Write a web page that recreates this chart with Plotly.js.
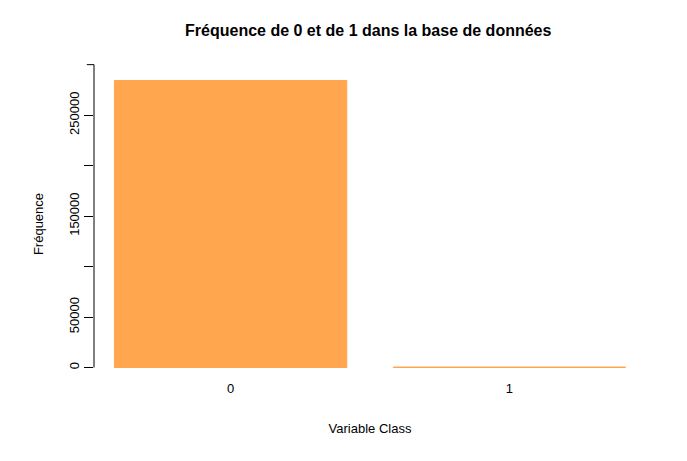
<!DOCTYPE html>
<html>
<head>
<meta charset="utf-8">
<script src="https://cdn.plot.ly/plotly-3.0.1.min.js"></script>
<style>body{margin:0}#chart{width:687px;height:461px}</style>
</head>
<body>
<div id="chart"></div>
<script>
const categories = ["0", "1"];
const counts = [284315, 492];
const yTicks = [0, 50000, 100000, 150000, 200000, 250000, 300000];
const yTickText = ["0", "50000", "", "150000", "", "250000", ""];

const positions = [0.7, 1.9];
const yMin = -0.04 * Math.max(...counts);
const yMax = 1.04 * Math.max(...counts);
const toPaper = v => (v - yMin) / (yMax - yMin);

const font = { family: "Liberation Sans, Arial, sans-serif", size: 13, color: "#000" };

const trace = {
  type: "bar",
  x: positions,
  y: counts,
  width: 1,
  marker: { color: "#FFA64F", line: { color: "#FFA64F", width: 1 } },
  hoverinfo: "y",
};

const shapes = [
  { type: "line", xref: "paper", yref: "paper", x0: 0, x1: 0, y0: toPaper(0), y1: toPaper(300000), line: { color: "#000", width: 1 } },
  { type: "line", xref: "paper", yref: "paper", x0: 0, x1: -0.013, y0: toPaper(300000), y1: toPaper(300000), line: { color: "#000", width: 1 } },
];

const layout = {
  width: 687,
  height: 461,
  margin: { l: 93.5, r: 40.5, t: 69, b: 81.5 },
  paper_bgcolor: "#fff",
  plot_bgcolor: "#fff",
  font,
  showlegend: false,
  title: {
    text: "<b>Fréquence de 0 et de 1 dans la base de données</b>",
    font: { ...font, size: 16 },
    x: 0.536, xanchor: "center", y: 0.935, yanchor: "middle",
  },
  xaxis: {
    range: [0.112, 2.488],
    tickvals: positions,
    ticktext: categories,
    ticks: "",
    showgrid: false, zeroline: false, showline: false,
    tickfont: font,
    title: { text: "Variable Class", font, standoff: 28 },
  },
  yaxis: {
    range: [yMin, yMax],
    tickvals: yTicks,
    ticktext: yTickText,
    tickangle: -90,
    ticks: "outside", ticklen: 9, tickcolor: "#000",
    showgrid: false, zeroline: false, showline: false,
    tickfont: font,
    title: { text: "Fréquence", font, standoff: 20 },
  },
  shapes,
};

Plotly.newPlot("chart", [trace], layout, { displayModeBar: false, staticPlot: true });
</script>
</body>
</html>
